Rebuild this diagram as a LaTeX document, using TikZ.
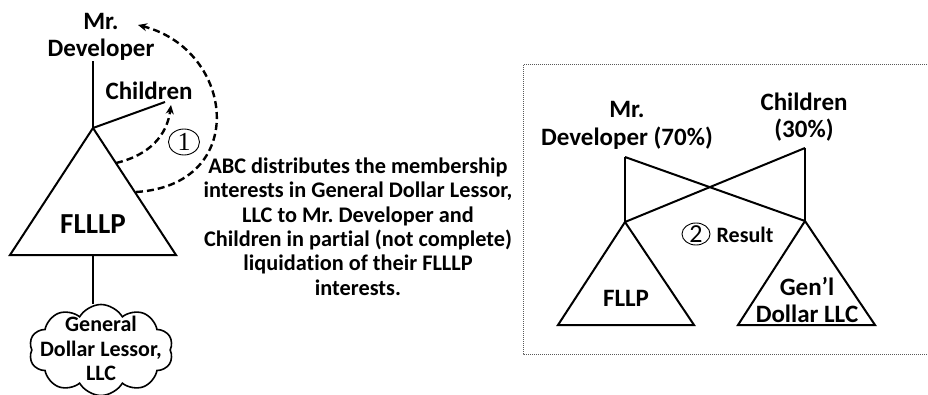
\documentclass[tikz,border=0pt]{standalone}
\usepackage{fontspec}
\setmainfont{Carlito}[Ligatures=NoCommon]
\newfontfamily\serifdig{Liberation Serif}
\usetikzlibrary{shapes.symbols,shapes.geometric,arrows.meta}
\tikzset{
  ln/.style={line width=2pt, line join=miter},
  lbl/.style={font=\fontsize{25}{26.5}\selectfont\bfseries, align=center, inner sep=0pt},
  rlbl/.style={font=\fontsize{25}{27.5}\selectfont\bfseries, align=center, inner sep=0pt},
  bodytext/.style={font=\fontsize{22.3}{24.4}\selectfont\bfseries\frenchspacing, align=center, inner sep=0pt},
  cloudtext/.style={font=\fontsize{22}{24.5}\selectfont\bfseries, align=center, inner sep=0pt},
  cloudbox/.style={draw, cloud, cloud puffs=10, cloud puff arc=120, line width=1.6pt,
    minimum width=144pt, minimum height=91pt, inner sep=0pt},
  dasharrow/.style={line width=2.4pt, dash pattern=on 7pt off 4pt,
    -{Stealth[length=9pt,width=8pt]}},
  circnum/.style={draw, ellipse, line width=0.9pt, inner sep=0pt},
  boxline/.style={line width=1pt, gray!70!black, dash pattern=on 1pt off 1pt},
}
\begin{document}
\frenchspacing
\begin{tikzpicture}[x=1pt,y=-1pt]
\useasboundingbox (0,0) rectangle (928,395);

% ---------- left structure ----------
\node[lbl] (mrdevL) at (101,37) {Mr.\\Developer};
\node[lbl] (childL) at (149,91) {Children};
\coordinate (apexL) at (93,128);
\coordinate (childEndL) at (165,102);
\coordinate (blL) at (10,255);
\coordinate (brL) at (176,255);
\coordinate (baseL) at (93,255);
\draw[ln] (apexL) -- (apexL |- mrdevL.south);
\draw[ln] (apexL) -- (childEndL);
\draw[ln] (apexL) -- (blL) -- (brL) -- cycle;
\node[font=\fontsize{29}{30}\selectfont\bfseries, inner sep=0pt] (flllp) at (93,224) {FLLLP};

\node[cloudbox] (gdl) at (101,350) {};
\node[cloudtext] (gdltext) at (101,348.5) {General\\Dollar Lessor,\\LLC};
\draw[ln] (baseL) -- (baseL |- gdl.north);

% dashed arrows
\coordinate (s1) at (116,163);
\coordinate (e1) at (171,105);
\coordinate (s2) at (136,192);
\coordinate (e2) at (138,25);
\draw[dasharrow] (s1) .. controls (150,155) and (167,135) .. (e1);
\draw[dasharrow] (s2) .. controls (250,185) and (235,50) .. (e2);

\node[circnum, minimum width=31pt, minimum height=26pt,
      font=\serifdig\fontsize{26}{26}\selectfont] (c1) at (184,142)
      {\raisebox{-0.34em}[0pt][0pt]{\makebox[0pt]{1}}};

\node[bodytext] (desc) at (358,226.5) {ABC distributes the membership\\interests in General Dollar Lessor,\\LLC to Mr. Developer and\\Children in partial (not complete)\\liquidation of their FLLLP\\interests.};

% ---------- right box ----------
\draw[boxline] (929,65) -- (523,65) -- (523,354) -- (929,354);

\node[rlbl] (mrdevR) at (627,125.5) {Mr.\\Developer (70\%)};
\node[rlbl] (childR) at (804,117) {Children\\(30\%)};

\coordinate (tl) at (625,157);
\coordinate (tr) at (805,148);
\coordinate (apexA) at (625,222);
\coordinate (apexB) at (805,221);
\draw[ln] (tl) -- (apexA);
\draw[ln] (tr) -- (apexB);
\draw[ln] (tl) -- (apexB);
\draw[ln] (tr) -- (apexA);

\coordinate (blA) at (558,325);
\coordinate (brA) at (694,325);
\coordinate (blB) at (738,325);
\coordinate (brB) at (875,325);
\draw[ln] (apexA) -- (blA) -- (brA) -- cycle;
\draw[ln] (apexB) -- (blB) -- (brB) -- cycle;

\node[rlbl] (fllp) at (626,298.5) {FLLP};
\node[rlbl] (gendollar) at (807,300) {Gen’l\\Dollar LLC};

\node[circnum, minimum width=28pt, minimum height=22pt,
      font=\fontsize{26}{26}\selectfont] (c2) at (696,234)
      {\raisebox{-0.32em}[0pt][0pt]{\makebox[0pt]{2}}};
\node[font=\fontsize{22}{24}\selectfont\bfseries, inner sep=0pt] (result) at (745,235) {Result};
\end{tikzpicture}
\end{document}
